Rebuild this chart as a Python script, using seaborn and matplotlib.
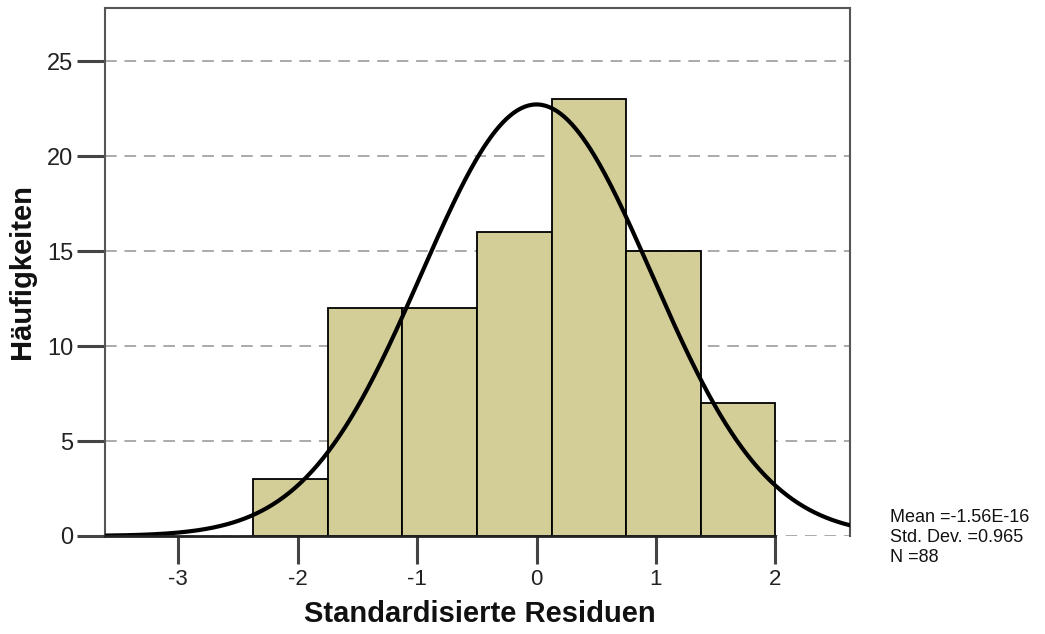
import numpy as np
import pandas as pd
import matplotlib
matplotlib.use("Agg")
import matplotlib.pyplot as plt
import seaborn as sns

# ---- data ----
bin_edges = [-2.372, -1.747, -1.123, -0.498, 0.126, 0.751, 1.375, 2.0]
counts = [3, 12, 12, 16, 23, 15, 7]
mean_val = -1.56e-16
std_val = 0.965
n_val = 88
y_ticks = [0, 5, 10, 15, 20, 25]
x_ticks = [-3, -2, -1, 0, 1, 2]
stats_text = ["Mean =-1.56E-16", "Std. Dev. =0.965", "N =88"]

sns.set_theme(style="white")
plt.rcParams['font.family'] = ['Liberation Sans', 'DejaVu Sans']

fig = plt.figure(figsize=(10.45, 6.34), dpi=100)
ax = fig.add_axes([105/1045, 1-536/634, (850-105)/1045, (536-8)/634])

centers = [(bin_edges[i] + bin_edges[i+1]) / 2 for i in range(len(counts))]
df = pd.DataFrame({"x": centers, "w": counts})
sns.histplot(data=df, x="x", weights="w", bins=bin_edges, ax=ax,
             color="#D3CE98", edgecolor="black", linewidth=1.3, alpha=1.0, zorder=3)

# normal curve from stated mean / sd / N
bw = (bin_edges[-1] - bin_edges[0]) / len(counts)
xs = np.linspace(-3.62, 2.63, 400)
ys = n_val * bw / (std_val * np.sqrt(2 * np.pi)) * np.exp(-0.5 * ((xs - mean_val) / std_val) ** 2)
sns.lineplot(x=xs, y=ys, ax=ax, color="black", linewidth=3, zorder=4)

ax.set_xlim(-3.612, 2.624)
ax.set_ylim(0, 27.8)
ax.set_yticks(y_ticks)
ax.set_xticks(x_ticks)
ax.set_yticklabels([str(v) for v in y_ticks], fontsize=17, color="#222222")
ax.set_xticklabels([str(v) for v in x_ticks], fontsize=16, color="#222222")
for yv in y_ticks:
    ax.axhline(yv, color="#AAAAAA", linestyle=(0, (6, 4)), linewidth=1.4, zorder=1)

ax.tick_params(axis="y", length=20, width=2.2, color="#444444", direction="out", pad=3, left=True)
ax.tick_params(axis="x", length=20, width=2.2, color="#444444", direction="out", pad=3.5, bottom=True)
for s in ["top", "right", "left"]:
    ax.spines[s].set_color("#555555")
    ax.spines[s].set_linewidth(1.5)
ax.spines["bottom"].set_color("#222222")
ax.spines["bottom"].set_linewidth(2.0)
ax.spines["bottom"].set_bounds(-3.612, 2.0)
ax.spines["bottom"].set_zorder(5)

ax.set_xlabel("Standardisierte Residuen", fontsize=21, fontweight="bold", color="#111111")
ax.set_ylabel("Häufigkeiten", fontsize=21, fontweight="bold", color="#111111")
ax.xaxis.set_label_coords(0.503, -0.121)
ax.yaxis.set_label_coords(-0.0926, 0.5)

for i, t in enumerate(stats_text):
    fig.text(890/1045, 1 - (517 + 20*i)/634, t, fontsize=13, va="center", ha="left", color="#111111")

fig.savefig("out.png", dpi=100)
